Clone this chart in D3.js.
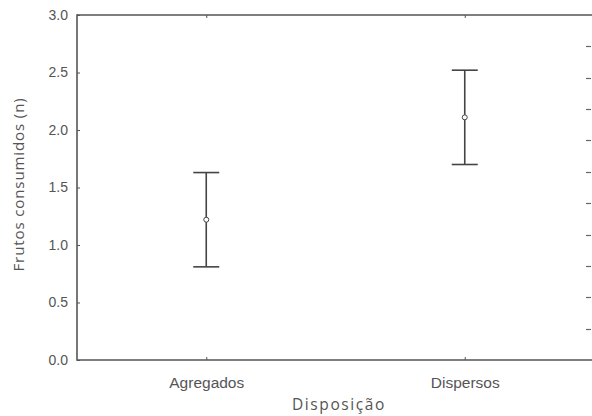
<!DOCTYPE html>
<html>
<head>
<meta charset="utf-8">
<script src="https://cdn.jsdelivr.net/npm/d3@7"></script>
<style>
  body { margin: 0; background: #fff; }
  svg { display: block; font-family: "Open Sans", sans-serif; }
</style>
</head>
<body>
<div id="chart"></div>
<script>
// data
let categories = ["Agregados", "Dispersos"]
let means = [1.22, 2.11]
let lower = [0.81, 1.70]
let upper = [1.63, 2.52]
let yTicks = [0.0, 0.5, 1.0, 1.5, 2.0, 2.5, 3.0]
// stray tick marks along the right edge of the scan
let edgeTicks = [1, 2, 3, 4, 5, 6, 7, 8, 9, 10]

let width = 592, height = 416
let margin = {top: 15, right: -2, bottom: 56, left: 77}
let ink = "#555"

let svg = d3.select("#chart")
    .append("svg")
    .attr("width", width)
    .attr("height", height)

let x = d3.scalePoint()
    .domain(categories)
    .range([margin.left, width - margin.right])
    .padding(0.5)

let y = d3.scaleLinear()
    .domain([0, 3])
    .range([height - margin.bottom, margin.top])

let yEdge = d3.scaleLinear()
    .domain([0, 11])
    .range([height - margin.bottom, margin.top])

// frame: top, left and bottom only (right side is cut off in the scan)
let frame = svg.append("g")
    .attr("stroke", ink)
    .attr("stroke-width", 1.6)
frame.append("line")
    .attr("x1", margin.left).attr("x2", width)
    .attr("y1", y(3)).attr("y2", y(3))
frame.append("line")
    .attr("x1", margin.left).attr("x2", width)
    .attr("y1", y(0)).attr("y2", y(0))
frame.append("line")
    .attr("x1", margin.left).attr("x2", margin.left)
    .attr("y1", y(3) - 0.8).attr("y2", y(0) + 0.8)

// left axis, ticks pointing inward
let yAxis = svg.append("g")
    .attr("transform", `translate(${margin.left},0)`)
    .call(d3.axisLeft(y).tickValues(yTicks).tickFormat(d3.format(".1f")).tickSize(-3).tickPadding(9))
yAxis.selectAll("line").attr("stroke", ink)
yAxis.selectAll("text")
    .attr("fill", ink)
    .style("font-size", "14px")

// bottom axis
let xAxis = svg.append("g")
    .attr("transform", `translate(0,${height - margin.bottom})`)
    .call(d3.axisBottom(x).tickSize(-3).tickPadding(17))
xAxis.selectAll("line").attr("stroke", ink)
xAxis.selectAll("text")
    .attr("fill", ink)
    .style("font-size", "15.5px")

// top ticks
let topAxis = svg.append("g")
    .attr("transform", `translate(0,${margin.top})`)
    .call(d3.axisTop(x).tickSize(-3).tickFormat(""))
topAxis.selectAll("line").attr("stroke", ink)

// right edge ticks, drawn straight from the scale
svg.append("g")
    .selectAll("line")
    .data(edgeTicks)
    .enter()
    .append("line")
    .attr("x1", 586)
    .attr("x2", 591)
    .attr("y1", d => Math.round(yEdge(d)) + 0.5)
    .attr("y2", d => Math.round(yEdge(d)) + 0.5)
    .attr("stroke", "#666")
    .attr("stroke-width", 1.2)

// no axis baselines: the frame lines stand in for them
svg.selectAll(".domain").remove()

// error bars
let capHalf = 13
let bars = svg.append("g")
    .selectAll("g")
    .data(categories)
    .enter()
    .append("g")
    .attr("stroke", "#444")
    .attr("stroke-width", 1.6)

bars.append("line")
    .attr("x1", d => x(d))
    .attr("x2", d => x(d))
    .attr("y1", (d, i) => y(upper[i]))
    .attr("y2", (d, i) => y(lower[i]))

bars.append("line")
    .attr("x1", d => x(d) - capHalf)
    .attr("x2", d => x(d) + capHalf)
    .attr("y1", (d, i) => y(upper[i]))
    .attr("y2", (d, i) => y(upper[i]))

bars.append("line")
    .attr("x1", d => x(d) - capHalf)
    .attr("x2", d => x(d) + capHalf)
    .attr("y1", (d, i) => y(lower[i]))
    .attr("y2", (d, i) => y(lower[i]))

bars.append("circle")
    .attr("cx", d => x(d))
    .attr("cy", (d, i) => y(means[i]))
    .attr("r", 2.5)
    .attr("fill", "#fff")
    .attr("stroke-width", 1)

// axis titles
svg.append("text")
    .attr("x", 339)
    .attr("y", 410)
    .attr("text-anchor", "middle")
    .attr("fill", ink)
    .style("font-size", "15.5px")
    .style("letter-spacing", "1.6px")
    .text("Disposição")

svg.append("text")
    .attr("transform", `translate(24,${(y(0) + y(3)) / 2 - 3}) rotate(-90)`)
    .attr("text-anchor", "middle")
    .attr("fill", ink)
    .style("font-size", "15px")
    .style("letter-spacing", "0.9px")
    .text("Frutos consumidos (n)")
</script>
</body>
</html>
